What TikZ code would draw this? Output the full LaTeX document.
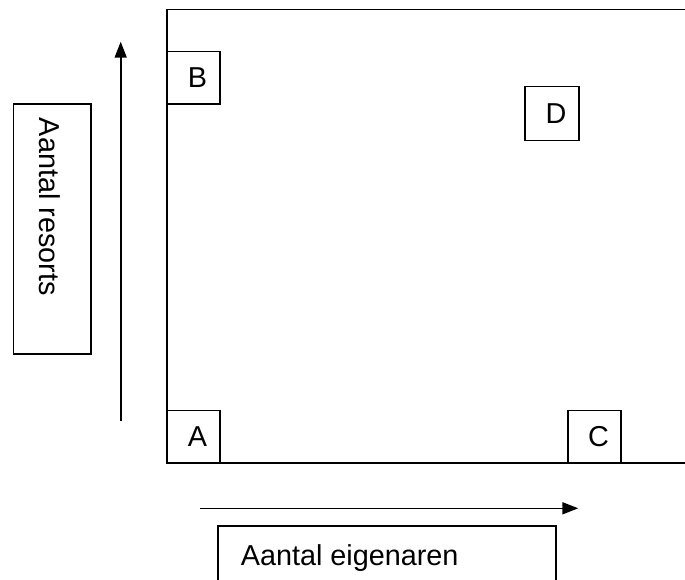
\documentclass[tikz,border=0pt]{standalone}
\usepackage{fontspec}
\setmainfont{Liberation Sans}
\usetikzlibrary{arrows.meta}
\begin{document}
\begin{tikzpicture}[x=1pt,y=-1pt,
  line width=1.6pt,
  every node/.style={font=\fontsize{28.8}{34}\selectfont, inner sep=0pt},
  corner/.style={draw, rectangle, minimum width=53pt, minimum height=52.5pt, line width=1.6pt},
  axisarrow/.style={-{Triangle[length=16pt,width=12pt]}, line width=1.6pt},
  labelbox/.style={draw, rectangle, line width=1.6pt}]
\useasboundingbox (0,0) rectangle (685,580);
% main frame (open on the right)
\coordinate (tr) at (686,9.5);
\coordinate (tl) at (167,9.5);
\coordinate (bl) at (167,463);
\coordinate (br) at (686,463);
\draw (tr) -- (tl) -- (bl) -- (br);
% corner boxes
\node[corner] (B) at (193.5,77.7) {\hspace*{8pt}B};
\node[corner] (A) at (193.5,436.8) {\hspace*{8pt}A};
\node[corner] (C) at (594.5,436.8) {\hspace*{8pt}C};
\node[corner, minimum width=54pt, minimum height=54pt] (D) at (552,113.7) {\hspace*{8pt}D};
% vertical axis
\coordinate (vs) at (120.7,420.7);
\coordinate (ve) at (120.7,41.7);
\draw[axisarrow] (vs) -- (ve);
\node[labelbox, minimum width=77.4pt, minimum height=250pt] (RB) at (52,229) {};
\node[rotate=-90, anchor=base west] (RT) at (39.5,117) {Aantal resorts};
% horizontal axis
\coordinate (hs) at (200,508.3);
\coordinate (he) at (578.3,508.3);
\draw[axisarrow] (hs) -- (he);
\coordinate (e1) at (217.7,583);
\coordinate (e2) at (217.7,525.7);
\coordinate (e3) at (555.7,525.7);
\coordinate (e4) at (555.7,583);
\draw (e1) -- (e2) -- (e3) -- (e4);
\node[anchor=base west] (ET) at (240,565) {Aantal eigenaren};
\end{tikzpicture}
\end{document}
